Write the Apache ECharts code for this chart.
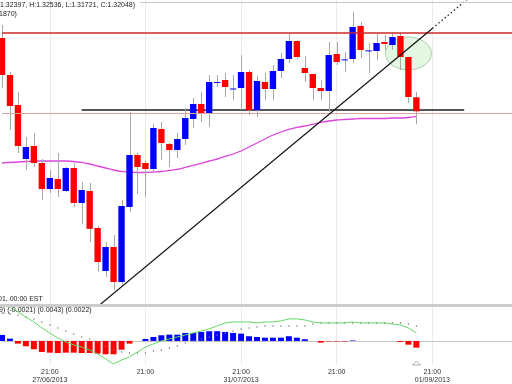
<!DOCTYPE html>
<html><head><meta charset="utf-8">
<script src="https://cdn.jsdelivr.net/npm/echarts@6.0.0/dist/echarts.min.js"></script>
<style>html,body{margin:0;padding:0;background:#fff}#c{width:512px;height:384px}</style>
</head><body><div id="c"></div><script>
// ---- data (daily candles, EUR/USD style) ----
const opens = [1.3388,1.32955,1.32205,1.30855,1.3118,1.30755,1.30105,1.30355,1.30055,1.3063,1.29755,1.30055,1.2913,1.28055,1.28655,1.2778,1.29655,1.30955,1.30755,1.30605,1.31605,1.3123,1.3108,1.31355,1.31855,1.3223,1.3198,1.32755,1.3283,1.32605,1.3263,1.3303,1.3208,1.3278,1.32605,1.33055,1.33355,1.33805,1.3313,1.3298,1.3263,1.32555,1.3348,1.3333,1.33355,1.3418,1.33555,1.33555,1.3378,1.33705,1.3393,1.33405,1.32397];
const closes = [1.32955,1.3218,1.3118,1.31155,1.30755,1.30105,1.3038,1.30105,1.3063,1.29755,1.3008,1.2911,1.2828,1.28655,1.2778,1.2968,1.30955,1.30655,1.30605,1.3163,1.31255,1.3108,1.31355,1.3188,1.3223,1.32005,1.3278,1.3278,1.32655,1.32618,1.3303,1.3208,1.32805,1.32605,1.33055,1.33355,1.33805,1.33405,1.33005,1.3263,1.32555,1.33455,1.3328,1.33345,1.34155,1.3358,1.3357,1.33755,1.3373,1.33905,1.33405,1.32405,1.32048];
const lows = [1.3263,1.3158,1.31005,1.3058,1.30655,1.2983,1.30005,1.29905,1.3003,1.29655,1.2923,1.2878,1.2803,1.27905,1.2758,1.2773,1.2953,1.2998,1.29905,1.3053,1.3083,1.30655,1.3088,1.31205,1.3163,1.3178,1.3166,1.32655,1.32405,1.3233,1.3208,1.31955,1.31905,1.3233,1.3233,1.3288,1.33255,1.33355,1.3278,1.3233,1.3233,1.3203,1.33205,1.3303,1.33255,1.3338,1.33005,1.3333,1.3358,1.3358,1.3308,1.32255,1.31721];
const highs = [1.34205,1.3303,1.3253,1.31405,1.31505,1.30855,1.3058,1.31005,1.30655,1.30755,1.3028,1.3026,1.2918,1.2878,1.28955,1.2983,1.3203,1.31005,1.30805,1.3173,1.3178,1.31255,1.31505,1.3213,1.3238,1.3253,1.32955,1.32955,1.33005,1.32955,1.33455,1.3308,1.3293,1.33005,1.33205,1.33505,1.34005,1.3383,1.3343,1.3298,1.3283,1.3378,1.3378,1.3353,1.3453,1.3428,1.33755,1.34005,1.33955,1.34005,1.34005,1.33405,1.32536];
const movingAvg = [1.30755,1.30768,1.3078,1.30793,1.30805,1.30805,1.30805,1.30805,1.30805,1.30793,1.30768,1.3073,1.3068,1.3063,1.3058,1.30543,1.3053,1.30518,1.30518,1.3053,1.30543,1.30568,1.30593,1.30643,1.30693,1.30743,1.30805,1.30855,1.30918,1.3098,1.31055,1.31155,1.31255,1.31355,1.31455,1.3153,1.31593,1.31643,1.3168,1.31718,1.31768,1.31805,1.3183,1.31843,1.31855,1.31868,1.31868,1.31868,1.31868,1.3188,1.3188,1.31893,1.31918];
const macdHist = [0.0017,0.00065,-0.00076,-0.0015,-0.00235,-0.00311,-0.00331,-0.0034,-0.00331,-0.00331,-0.0034,-0.0034,-0.00359,-0.00376,-0.00376,-0.00246,-0.00076,0,0.00057,0.00113,0.00161,0.00178,0.00178,0.00226,0.00226,0.00255,0.00275,0.00275,0.00255,0.00226,0.00207,0.00133,0.00113,0.00093,0.00093,0.00093,0.00133,0.00093,0.00048,0,-0.00048,-0.00014,-0.00014,-0.00014,0.00014,0,0,0,0,0,-0.00028,-0.00105,-0.0019];
const macdLine = [0.01047,0.00962,0.00821,0.00679,0.00538,0.00368,0.00226,0.00085,-0.00028,-0.00113,-0.0017,-0.00255,-0.00368,-0.00509,-0.00651,-0.00538,-0.00453,-0.00311,-0.0017,-0.00085,0,0.00057,0.00113,0.0017,0.00226,0.00283,0.0034,0.00425,0.00509,0.00538,0.00538,0.00538,0.00509,0.00538,0.00538,0.00566,0.00623,0.00623,0.00594,0.00538,0.00509,0.00509,0.00509,0.00509,0.00538,0.00509,0.00509,0.00509,0.00509,0.00481,0.00453,0.00368,0.00226];
const signalLine = [0.00792,0.00764,0.00736,0.00679,0.00623,0.00538,0.00453,0.00368,0.00283,0.00198,0.00113,0.00057,-0.00028,-0.00142,-0.00255,-0.00311,-0.0034,-0.0034,-0.0034,-0.00283,-0.00255,-0.00198,-0.00142,-0.00057,0,0.00057,0.00113,0.0017,0.00226,0.00283,0.0034,0.00368,0.00396,0.00425,0.00425,0.00425,0.00425,0.00425,0.00425,0.00481,0.00509,0.00509,0.00509,0.00509,0.00509,0.00509,0.00509,0.00509,0.00509,0.00509,0.00509,0.00481,0.00425];
const tickSlots = [6, 18, 30, 42, 54];
const tickLabels = ['21:00\n27/06/2013', '21:00', '21:00\n31/07/2013', '21:00', '21:00\n01/09/2013'];
const resistance = 1.3418;
const support = 1.3208;
const supportRange = [10, 58];
const lastClose = 1.32048;
const trendSolid = [[12, 1.27164], [54, 1.34119]];
const trendDotted = [[54, 1.34119], [60, 1.35113]];
const ellipseAt = [51, 1.33493];
const headerLine1 = '1.32397, H:1.32536, L:1.31721, C:1.32048)';
const headerLine2 = '1870)';
const footerText = '01, 00:00 EST';
const macdTitle = '9) (-0.0021) (0.0043) (0.0022)';

// ---- chart ----
const SLOTS = 65;
const slotNames = Array.from({length: SLOTS}, (_, i) => String(i));
const candleData = opens.map((o, i) => [i, o, closes[i], lows[i], highs[i]]);
const FONT = '"Liberation Sans", Arial, sans-serif';
const labelAt = idx => tickSlots.indexOf(idx);
const vSplit = {show: true, interval: (i) => labelAt(i) >= 0, lineStyle: {color: '#ebebeb', width: 1}};

function renderCandle(params, api) {
  const i = api.value(0), o = api.value(1), c = api.value(2), l = api.value(3), h = api.value(4);
  const pO = api.coord([i, o]), pC = api.coord([i, c]);
  const pL = api.coord([i, l]), pH = api.coord([i, h]);
  const bw = api.size([1, 0])[0] * 0.8;
  const x = Math.round(pO[0]) + 0.5;
  const top = Math.min(pO[1], pC[1]);
  const ht = Math.max(1, Math.abs(pO[1] - pC[1]));
  return {type: 'group', children: [
    {type: 'line', shape: {x1: x, y1: pH[1], x2: x, y2: pL[1]}, style: {stroke: '#a8a8a8', lineWidth: 1}},
    {type: 'rect', shape: {x: pO[0] - bw / 2, y: top, width: bw, height: ht}, style: {fill: c >= o ? '#0000ff' : '#ff0000'}}
  ]};
}

const chart = echarts.init(document.getElementById('c'), null, {renderer: 'canvas'});
chart.setOption({
  animation: false,
  grid: [{left: 2, top: 0, width: 512, height: 304}, {left: 2, top: 307, width: 512, height: 58}],
  xAxis: [
    {type: 'category', gridIndex: 0, data: slotNames, boundaryGap: false,
     axisLine: {show: false}, axisTick: {show: false}, axisLabel: {show: false}, splitLine: vSplit},
    {type: 'category', gridIndex: 1, data: slotNames, boundaryGap: false,
     axisLine: {show: true, lineStyle: {color: '#c4c4c4'}}, axisTick: {show: false},
     axisLabel: {show: true, interval: (i) => labelAt(i) >= 0,
       formatter: (v, i) => { const k = labelAt(i); return k >= 0 ? tickLabels[k] : ''; },
       fontSize: 7, lineHeight: 8, color: '#333', fontFamily: FONT, margin: 3},
     splitLine: vSplit}
  ],
  yAxis: [
    {type: 'value', gridIndex: 0, min: 1.2723, max: 1.3483, show: false},
    {type: 'value', gridIndex: 1, min: -0.0068, max: 0.0096, show: false}
  ],
  series: [
    {type: 'line', xAxisIndex: 0, yAxisIndex: 0, data: movingAvg, showSymbol: false, smooth: 0.3,
     lineStyle: {color: '#dd44dd', width: 1.3}, z: 2,
     markLine: {symbol: 'none', silent: true, label: {show: false}, animation: false,
       data: [{yAxis: lastClose, lineStyle: {color: '#d9a3a3', width: 1, type: 'solid'}},
              {yAxis: resistance, lineStyle: {color: '#cc2a2a', width: 1.5, type: 'solid'}}]}},
    {type: 'line', xAxisIndex: 0, yAxisIndex: 0, data: [[supportRange[0], support], [supportRange[1], support]],
     showSymbol: false, lineStyle: {color: '#1e1e1e', width: 1.5}, z: 3},
    {type: 'custom', xAxisIndex: 0, yAxisIndex: 0, data: candleData, renderItem: renderCandle,
     encode: {x: 0, y: [1, 2, 3, 4]}, z: 4},
    {type: 'line', xAxisIndex: 0, yAxisIndex: 0, data: trendSolid, showSymbol: false,
     lineStyle: {color: '#111', width: 1.2}, z: 5},
    {type: 'line', xAxisIndex: 0, yAxisIndex: 0, data: trendDotted, showSymbol: false,
     lineStyle: {color: '#111', width: 1.2, type: [1.5, 2.5]}, z: 5},
    {type: 'bar', xAxisIndex: 1, yAxisIndex: 1, data: macdHist, barWidth: 6,
     itemStyle: {color: (p) => p.value >= 0 ? '#0000ff' : '#ff0000'}},
    {type: 'line', xAxisIndex: 1, yAxisIndex: 1, data: macdLine, showSymbol: false,
     lineStyle: {color: '#66d866', width: 1}},
    {type: 'scatter', xAxisIndex: 1, yAxisIndex: 1, data: signalLine, symbol: 'rect', symbolSize: [1, 2],
     itemStyle: {color: '#777'}}
  ]
});

const ec = chart.convertToPixel({gridIndex: 0}, ellipseAt);
const tri = chart.convertToPixel({gridIndex: 1}, [opens.length - 1, -0.0068]);
const txt = (text, x, y) => ({type: 'text', x: x, y: y, style: {text: text, fontSize: 7, fontFamily: FONT, fill: '#222', textVerticalAlign: 'top'}, z: 100});
chart.setOption({graphic: [
  {type: 'ellipse', shape: {cx: ec[0], cy: ec[1], rx: 23, ry: 16.5}, style: {fill: 'rgba(200,240,200,0.5)', stroke: '#a8d0a8', lineWidth: 1}, z: 1, silent: true},
  {type: 'rect', shape: {x: 0, y: 304, width: 512, height: 3}, style: {fill: '#cccccc'}, z: 50},
  {type: 'line', shape: {x1: 140, y1: 2.5, x2: 512, y2: 2.5}, style: {stroke: '#c8c8c8', lineWidth: 1}, z: 50},
  {type: 'polygon', shape: {points: [[tri[0] - 4, tri[1]], [tri[0] + 4, tri[1]], [tri[0], tri[1] - 4]]}, style: {fill: '#fff', stroke: '#aaa', lineWidth: 1}, z: 50},
  txt(headerLine1, 0, 2),
  txt(headerLine2, -1, 11),
  txt(footerText, -2, 295.5),
  txt(macdTitle, -1, 307)
]});
</script></body></html>
